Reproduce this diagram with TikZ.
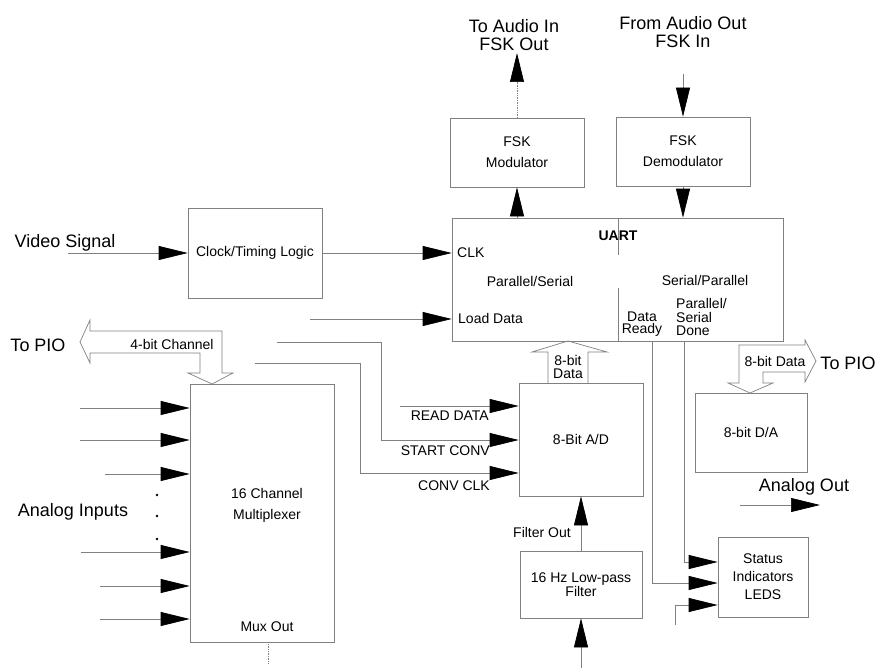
\documentclass[tikz,border=0pt]{standalone}
\usepackage{fontspec}
\setmainfont{Liberation Sans}
\usetikzlibrary{arrows.meta,calc}
\begin{document}
\begin{tikzpicture}[x=1pt,y=-1pt,
  line/.style={draw=black!50, line width=0.7pt},
  box/.style={line, rectangle, inner sep=0pt, align=center, font=\fontsize{14}{21}\selectfont},
  sig/.style={line, -{Triangle[length=29pt,width=14pt,color=black]}},
  big/.style={inner sep=0pt, align=center, font=\fontsize{18}{18}\selectfont},
  lbl/.style={inner sep=0pt, align=center, font=\fontsize{14}{16}\selectfont},
]
\useasboundingbox (0,0) rectangle (876,669);

% ---------- boxes ----------
\node[box, minimum width=134pt, minimum height=69pt] (mod) at (517,152.5) {FSK\\Modulator};
\node[box, minimum width=134pt, minimum height=69pt] (demod) at (683,151.5) {FSK\\Demodulator};
\node[box, minimum width=331pt, minimum height=123pt] (uart) at (617.5,279.5) {};
\node[box, minimum width=134pt, minimum height=90pt] (clk) at (255,253) {Clock/Timing Logic};
\node[box, minimum width=144pt, minimum height=258pt] (mux) at (262,513) {};
\node[box, minimum width=124pt, minimum height=113pt] (ad) at (581,439.5) {8-Bit A/D};
\node[box, minimum width=122pt, minimum height=67pt, font=\fontsize{14}{14}\selectfont] (filt) at (581,584.5) {16 Hz Low-pass\\Filter};
\node[box, minimum width=112pt, minimum height=79pt] (da) at (751,432.5) {8-bit D/A};
\node[box, minimum width=90pt, minimum height=80pt, font=\fontsize{14}{18}\selectfont] (stat) at (763,577) {Status\\Indicators\\LEDS};

% ---------- outer labels ----------
\node[big] (toaudio) at (514,35) {To Audio In\\FSK Out};
\node[big] (fromaudio) at (683,32) {From Audio Out\\FSK In};
\node[big] (video) at (65,243) {Video Signal};
\node[big] (topioL) at (38,345) {To PIO};
\node[big] (topioR) at (848,363) {To PIO};
\node[big] (analogin) at (73,512) {Analog Inputs};
\node[big] (analogout) at (804,487) {Analog Out};

% ---------- UART interior ----------
\draw[line] (618,218) -- (618,255);
\draw[line] (618,288) -- (618,341);
\node[lbl, font=\bfseries\fontsize{14}{16}\selectfont] (uartl) at (618,236) {UART};
\node[lbl, anchor=west] (clkl) at (457,253) {CLK};
\node[lbl] (ps) at (530,281) {Parallel/Serial};
\node[lbl, anchor=west] (ld) at (458,318) {Load Data};
\node[lbl] (sp) at (705,280) {Serial/Parallel};
\node[lbl, font=\fontsize{14}{12.5}\selectfont] (dr) at (642,324) {Data\\Ready};
\node[lbl, anchor=west, align=left, font=\fontsize{14}{13.5}\selectfont] (psd) at (676,317) {Parallel/\\Serial\\Done};

% ---------- mux interior ----------
\node[lbl, font=\fontsize{14}{21}\selectfont] (muxl) at (267,505) {16 Channel\\Multiplexer};
\node[lbl] (muxout) at (267,627) {Mux Out};

% ---------- FSK connections ----------
\coordinate (audout) at (517,53);
\coordinate (fskin) at (683,74);
\draw[sig, densely dotted] (mod.north) -- (audout);
\draw[sig] (fskin) -- (demod.north);
\draw[sig] (mod.south |- uart.north) -- (mod.south);
\draw[sig] (demod.south) -- (demod.south |- uart.north);

% ---------- clock connections ----------
\coordinate (vidin) at (68,253);
\draw[sig] (vidin) -- (clk.west);
\draw[sig] (clk.east) -- (clk.east -| uart.west);
\coordinate (lds) at (310,319);
\draw[sig] (lds) -- (lds -| uart.west);

\coordinate (c1) at (277,342);
\coordinate (c1b) at (381,440);
\draw[sig] (c1) -| (c1b) -- (c1b -| ad.west);
\coordinate (c2) at (255,363);
\coordinate (c2b) at (360,473);
\draw[sig] (c2) -| (c2b) -- (c2b -| ad.west);
\coordinate (rd) at (400,406);
\draw[sig] (rd) -- (rd -| ad.west);
\node[lbl, anchor=east] (rdl) at (489,416) {READ DATA};
\node[lbl, anchor=east] (scl) at (490,451) {START CONV};
\node[lbl, anchor=east] (ccl) at (490,486) {CONV CLK};

% ---------- 4-bit channel hollow arrow ----------
\draw[line, line join=miter] (222,331) -- (90,331) -- (90,320) -- (80,342) -- (90,363) -- (90,353)
  -- (200,353) -- (200,373) -- (188,373) -- (212,384) -- (233,373) -- (222,373) -- cycle;
\node[lbl] (fourbit) at (172,344) {4-bit Channel};

% ---------- analog inputs ----------
\foreach \i/\xs/\yy in {1/80/408, 2/80/440, 3/105/474, 4/81/552, 5/100/586, 6/100/619}{
  \coordinate (ain\i) at (\xs,\yy);
  \draw[sig] (ain\i) -- (ain\i -| mux.west);
}
\foreach \yy in {495,516,539}{\fill (157,\yy) circle (1.4);}

% ---------- mux out ----------
\coordinate (mo) at (268,664);
\draw[line, densely dotted] (mux.south -| mo) -- (mo);

% ---------- 8-bit data A/D -> UART ----------
\draw[line, line join=miter] (548,383) -- (548,352) -- (532,352) -- (568,341) -- (607,352) -- (588,352) -- (588,383);
\node[lbl, font=\fontsize{14}{13}\selectfont] (eb1) at (568,367) {8-bit\\Data};

% ---------- filter ----------
\draw[sig] (filt.north) -- (ad.south);
\node[lbl] (fo) at (542,532) {Filter Out};
\coordinate (filtin) at (581,668);
\draw[sig] (filtin) -- (filt.south);

% ---------- D/A hollow arrow ----------
\draw[line, line join=miter] (750,393) -- (773,383) -- (763,383) -- (763,372) -- (805,372) -- (805,382)
  -- (816,361) -- (805,340) -- (805,345) -- (739,345) -- (739,383) -- (728,383) -- cycle;
\node[lbl, fill=white, inner sep=1pt] (eb2) at (775,361) {8-bit Data};

% ---------- analog out ----------
\coordinate (aos) at (740,505);
\coordinate (aoe) at (820,505);
\draw[sig] (aos) -- (aoe);

% ---------- status lines ----------
\coordinate (drdy) at (652,341);
\coordinate (done) at (684,341);
\coordinate (ledin) at (675,625);
\draw[sig] (done) |- ($(stat.west)+(0,-15)$);
\draw[sig] (drdy) |- ($(stat.west)+(0,6)$);
\draw[sig] (ledin) |- ($(stat.west)+(0,28)$);
\end{tikzpicture}
\end{document}
